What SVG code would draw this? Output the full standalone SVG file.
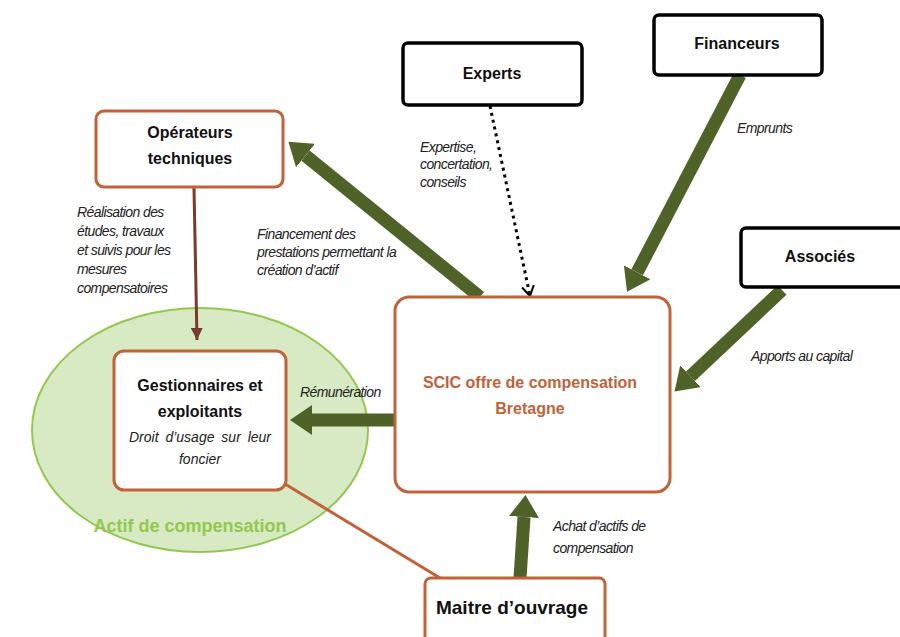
<svg xmlns="http://www.w3.org/2000/svg" width="900" height="637" viewBox="0 0 900 637">
<defs>
<style>
.bx{fill:#fff;stroke:#c0623a;stroke-width:3}
.bk{fill:#fff;stroke:#000;stroke-width:3.5}
.t{font-family:"Liberation Sans",Arial,sans-serif;font-weight:bold;font-size:16px;fill:#111;text-anchor:middle}
.l{font-family:"Liberation Sans",Arial,sans-serif;font-style:italic;font-size:14px;fill:#222;letter-spacing:-0.6px}
.g{stroke:#4f6228;stroke-width:13;fill:none}
</style>
<marker id="gh" markerUnits="userSpaceOnUse" markerWidth="24" markerHeight="30" refX="0" refY="15" orient="auto">
<path d="M0,0 L22,15 L0,30 Z" fill="#4f6228"/>
</marker>
<marker id="bh" markerUnits="userSpaceOnUse" markerWidth="14" markerHeight="14" refX="12" refY="7" orient="auto">
<path d="M0,1 L12,7 L0,13 Z" fill="#7b3a2e"/>
</marker>
<marker id="oh" markerUnits="userSpaceOnUse" markerWidth="14" markerHeight="14" refX="11" refY="7" orient="auto">
<path d="M1,1 L11,7 L1,13" fill="none" stroke="#000" stroke-width="2"/>
</marker>
</defs>
<rect width="900" height="637" fill="#fff"/>
<ellipse cx="200" cy="430" rx="168" ry="122" fill="#d7eac3" stroke="#92c84e" stroke-width="2"/>
<text x="190" y="532" font-family="'Liberation Sans',Arial,sans-serif" font-weight="bold" font-size="18" fill="#92c84e" text-anchor="middle">Actif de compensation</text>
<g id="connectors">
<path class="g" d="M480,297 L305.5,155.6" marker-end="url(#gh)"/>
<path class="g" d="M740,75 L637.2,272.3" marker-end="url(#gh)"/>
<path class="g" d="M782,290 L690.5,376.3" marker-end="url(#gh)"/>
<path class="g" d="M395,420 L312,420" marker-end="url(#gh)"/>
<path class="g" d="M520,578 L524,517" marker-end="url(#gh)"/>
<path d="M490,106 L530,296" stroke="#000" stroke-width="3" stroke-dasharray="3 4" fill="none" marker-end="url(#oh)"/>
<path d="M194,188 L197,340" stroke="#7b3a2e" stroke-width="3" fill="none" marker-end="url(#bh)"/>
<path d="M285,484 L440,578" stroke="#c0623a" stroke-width="3" fill="none"/>
<text class="l" x="77" y="217">Réalisation des</text>
<text class="l" x="77" y="236">études, travaux</text>
<text class="l" x="77" y="255">et suivis pour les</text>
<text class="l" x="77" y="274">mesures</text>
<text class="l" x="77" y="293">compensatoires</text>
<text class="l" x="257" y="239">Financement des</text>
<text class="l" x="257" y="257">prestations permettant la</text>
<text class="l" x="257" y="275">création d’actif</text>
<text class="l" x="420" y="152">Expertise,</text>
<text class="l" x="420" y="169">concertation,</text>
<text class="l" x="420" y="187">conseils</text>
<text class="l" x="737" y="133">Emprunts</text>
<text class="l" x="751" y="361">Apports au capital</text>
<text class="l" x="300" y="397">Rémunération</text>
<text class="l" x="553" y="531">Achat d’actifs  de</text>
<text class="l" x="553" y="553">compensation</text>
</g>
<g id="operateurs">
<rect class="bx" x="96" y="111" width="187" height="76" rx="8"/>
<text class="t" x="190" y="138">Opérateurs</text>
<text class="t" x="190" y="164">techniques</text>
</g>
<g id="experts">
<rect class="bk" x="403" y="43" width="179" height="62" rx="5"/>
<text class="t" x="492" y="79">Experts</text>
</g>
<g id="financeurs">
<rect class="bk" x="654" y="15" width="168" height="60" rx="5"/>
<text class="t" x="737" y="49">Financeurs</text>
</g>
<g id="associes">
<rect class="bk" x="741" y="228" width="170" height="59" rx="5"/>
<text class="t" x="820" y="262">Associés</text>
</g>
<g id="scic">
<rect class="bx" x="395" y="297" width="275" height="195" rx="14"/>
<text class="t" x="530" y="388" style="fill:#c0623a">SCIC offre de compensation</text>
<text class="t" x="530" y="414" style="fill:#c0623a">Bretagne</text>
</g>
<g id="gestionnaires">
<rect class="bx" x="114" y="351" width="172" height="139" rx="10"/>
<text class="t" x="200" y="391">Gestionnaires et</text>
<text class="t" x="200" y="417">exploitants</text>
<text class="l" x="200" y="442" text-anchor="middle" style="letter-spacing:0;word-spacing:3px">Droit d’usage sur leur</text>
<text class="l" x="200" y="464" text-anchor="middle" style="letter-spacing:0">foncier</text>
</g>
<g id="maitre">
<rect class="bx" x="425" y="578" width="180" height="70" rx="6"/>
<text class="t" x="512" y="614" style="font-size:19px">Maitre d’ouvrage</text>
</g>
</svg>
